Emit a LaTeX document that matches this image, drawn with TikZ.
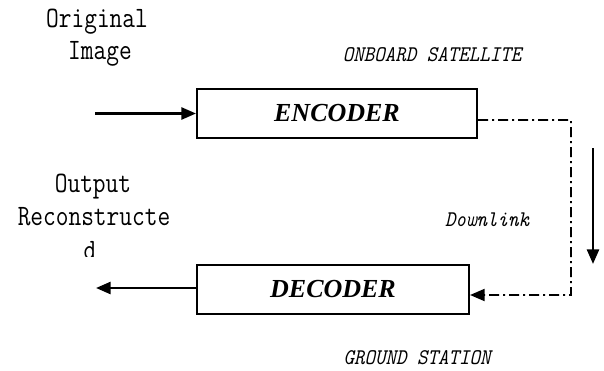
\documentclass[tikz,border=0pt]{standalone}
\usepackage{fontspec}
\newfontfamily\boxfont{Liberation Serif}
\usetikzlibrary{arrows.meta}
\newcommand{\tallbig}[1]{\scalebox{1}[1.2]{#1}}
\newcommand{\tallsmall}[1]{\scalebox{1}[1.12]{#1}}
\begin{document}
\begin{tikzpicture}[x=0.75pt,y=-0.75pt,
  blockbox/.style={draw,line width=1.5pt,minimum width=210pt,minimum height=36.75pt,inner sep=0pt,font=\boxfont\bfseries\itshape\fontsize{19.5}{22}\selectfont},
  bigtext/.style={font=\ttfamily\fontsize{18.5}{22}\selectfont,anchor=base,inner sep=0pt},
  smalltext/.style={font=\ttfamily\itshape\fontsize{15}{18}\selectfont,inner sep=0pt},
  arr/.style={line width=2pt,-{Triangle[length=11pt,width=9pt]}},
  dashdot/.style={line width=1.4pt,dash pattern=on 7.5pt off 3pt on 1.5pt off 3pt,-{Triangle[length=11pt,width=9pt]}}]
\useasboundingbox (0,0) rectangle (604,371);
% blocks
\node[blockbox] (enc) at (337,113.5) {ENCODER};
\node[blockbox,minimum width=204pt] (dec) at (333,289.5) {DECODER};
% texts
\node[bigtext] (orig) at (97,27) {\tallbig{Original}};
\node[bigtext] (img) at (100,60) {\tallbig{Image}};
\node[bigtext] (outp) at (93,192) {\tallbig{Output}};
\node[bigtext] (recon) at (94,225) {\tallbig{Reconstructe}};
\begin{scope}
  \clip (60,240) rectangle (130,256);
  \node[bigtext] (dd) at (90,259) {\tallbig{d}};
\end{scope}
\node[smalltext] (onb) at (432,55) {\tallsmall{ONBOARD SATELLITE}};
\node[smalltext] (down) at (487,220) {\tallsmall{Downlink}};
\node[smalltext] (gnd) at (417,358) {\tallsmall{GROUND STATION}};
% coordinates
\coordinate (in) at (95,113.5);
\coordinate (c1) at (571,120);
\coordinate (c2) at (571,295);
\coordinate (d1) at (593,148);
\coordinate (d2) at (593,264);
\coordinate (out) at (96,288);
% connectors
\draw[arr] (in) -- (enc.west);
\draw[dashdot] ([yshift=-4.9pt]enc.east) -- (c1) -- (c2) -- (dec.east |- c2);
\draw[arr] (d1) -- (d2);
\draw[arr] (dec.west |- out) -- (out);
\end{tikzpicture}
\end{document}
